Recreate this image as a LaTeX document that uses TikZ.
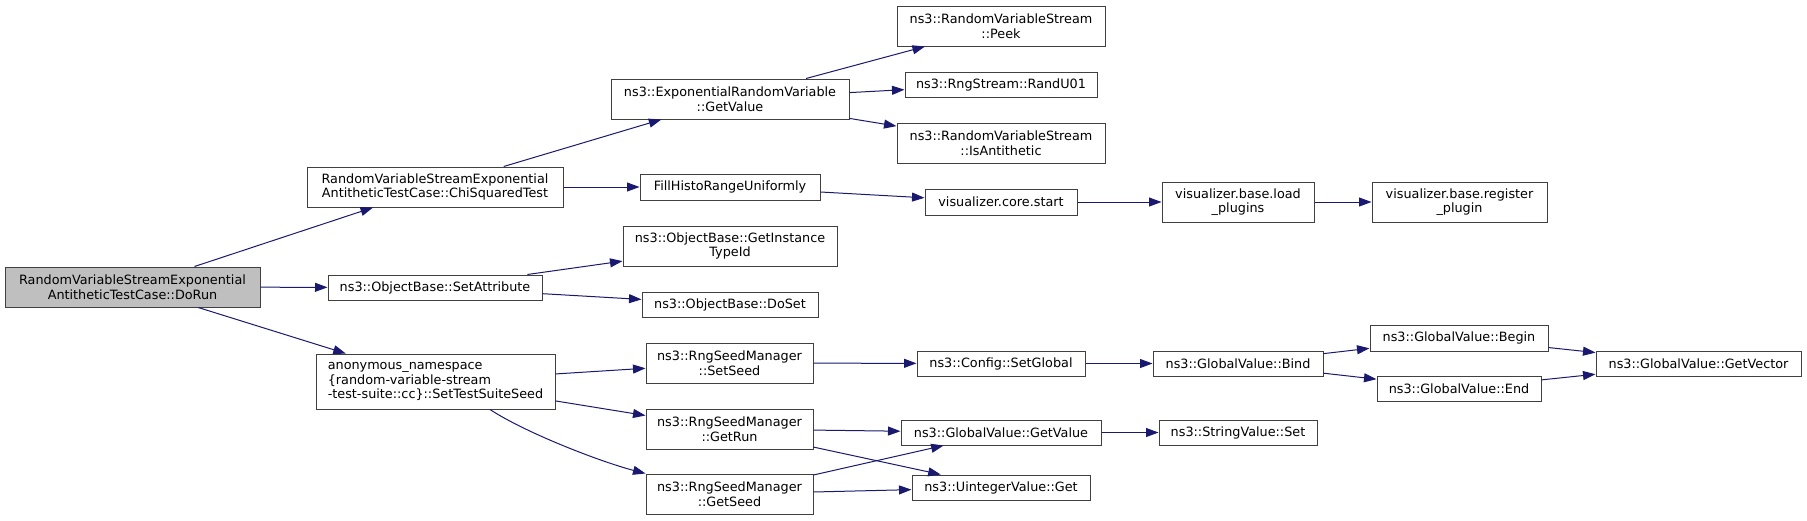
\documentclass[tikz,border=0pt]{standalone}
\usepackage{fontspec}
\setmainfont{DejaVu Sans}
\usetikzlibrary{arrows.meta,calc}
\definecolor{edgeblue}{HTML}{191970}
\definecolor{boxline}{HTML}{404040}
\definecolor{rootfill}{HTML}{BFBFBF}
\begin{document}
\begin{tikzpicture}[x=1pt,y=-1pt,
  fn/.style={draw=boxline, line width=1pt, fill=white, inner sep=0pt, align=center,
             font=\fontsize{12.8}{14.6}\selectfont},
  root/.style={fn, fill=rootfill},
  call/.style={draw=edgeblue, line width=1pt, -{Triangle[length=12.5pt,width=9pt]}}]
\useasboundingbox (0,0) rectangle (1807,520);

% column 1
\node[root, minimum width=255pt, minimum height=40pt] (dorun) at (132.5,287)
  {RandomVariableStreamExponential\\AntitheticTestCase::DoRun};
% column 2
\node[fn, minimum width=256pt, minimum height=40pt] (chisq) at (435,187)
  {RandomVariableStreamExponential\\AntitheticTestCase::ChiSquaredTest};
\node[fn, minimum width=214pt, minimum height=25pt] (setattr) at (435,287.5)
  {ns3::ObjectBase::SetAttribute};
\node[fn, align=left, minimum width=239pt, minimum height=55pt,
      font=\fontsize{12.8}{14.3}\selectfont] (seed) at (435.5,381.5)
  {anonymous\_namespace\\\{random-variable-stream\\-test-suite::cc\}::SetTestSuiteSeed};
% column 3
\node[fn, minimum width=238pt, minimum height=40pt] (expget) at (730,99)
  {ns3::ExponentialRandomVariable\\::GetValue};
\node[fn, minimum width=180pt, minimum height=26pt] (fillhisto) at (730,187)
  {FillHistoRangeUniformly};
\node[fn, minimum width=214pt, minimum height=40pt] (getinst) at (730,246)
  {ns3::ObjectBase::GetInstance\\TypeId};
\node[fn, minimum width=176pt, minimum height=25pt] (doset) at (730,304.5)
  {ns3::ObjectBase::DoSet};
\node[fn, minimum width=167pt, minimum height=40pt] (setseed) at (729.5,363)
  {ns3::RngSeedManager\\::SetSeed};
\node[fn, minimum width=167pt, minimum height=40pt] (getrun) at (729.5,429)
  {ns3::RngSeedManager\\::GetRun};
\node[fn, minimum width=167pt, minimum height=40pt] (getseed) at (729.5,494)
  {ns3::RngSeedManager\\::GetSeed};
% column 4
\node[fn, minimum width=208pt, minimum height=40pt] (peek) at (1001,26)
  {ns3::RandomVariableStream\\::Peek};
\node[fn, minimum width=192pt, minimum height=25pt] (randu) at (1001,84.5)
  {ns3::RngStream::RandU01};
\node[fn, minimum width=208pt, minimum height=40pt] (isanti) at (1001,143)
  {ns3::RandomVariableStream\\::IsAntithetic};
\node[fn, minimum width=152pt, minimum height=26pt] (corestart) at (1001,202)
  {visualizer.core.start};
\node[fn, minimum width=168pt, minimum height=25pt] (setglobal) at (1001,363.5)
  {ns3::Config::SetGlobal};
\node[fn, minimum width=200pt, minimum height=25pt] (gvget) at (1001,432.5)
  {ns3::GlobalValue::GetValue};
\node[fn, minimum width=178pt, minimum height=25pt] (uget) at (1001,487.5)
  {ns3::UintegerValue::Get};
% column 5
\node[fn, minimum width=152pt, minimum height=40pt] (loadplug) at (1238,202)
  {visualizer.base.load\\\_plugins};
\node[fn, minimum width=170pt, minimum height=25pt] (bind) at (1238,363.5)
  {ns3::GlobalValue::Bind};
\node[fn, minimum width=158pt, minimum height=25pt] (strset) at (1238,432.5)
  {ns3::StringValue::Set};
% column 6
\node[fn, minimum width=175pt, minimum height=40pt] (regplug) at (1459.5,202)
  {visualizer.base.register\\\_plugin};
\node[fn, minimum width=178pt, minimum height=26pt] (begin) at (1459,338)
  {ns3::GlobalValue::Begin};
\node[fn, minimum width=164pt, minimum height=25pt] (gvend) at (1459,388.5)
  {ns3::GlobalValue::End};
% column 7
\node[fn, minimum width=205pt, minimum height=25pt] (getvec) at (1698.5,363.5)
  {ns3::GlobalValue::GetVector};

% edges
\draw[call] (dorun) -- (chisq);
\draw[call] (dorun) -- (setattr);
\draw[call] (dorun) -- (seed);
\draw[call] (chisq) -- (expget);
\draw[call] (chisq) -- (fillhisto);
\draw[call] (expget) -- (peek);
\draw[call] (expget) -- (randu);
\draw[call] (expget) -- (isanti);
\draw[call] (fillhisto) -- (corestart);
\draw[call] (corestart) -- (loadplug);
\draw[call] (loadplug) -- (regplug);
\draw[call] (setattr) -- (getinst);
\draw[call] (setattr) -- (doset);
\draw[call] (seed) -- (setseed);
\draw[call] (seed) -- (getrun);
\draw[call] ($(seed.south)+(54.5,0)$) .. controls ($(seed.south)+(89.5,23)$)
  and ($(getseed.north west)+(-46,-12)$) .. (getseed.north west);
\draw[call] (setseed) -- (setglobal);
\draw[call] (setglobal) -- (bind);
\draw[call] (bind) -- (begin);
\draw[call] (bind) -- (gvend);
\draw[call] (begin) -- (getvec);
\draw[call] (gvend) -- (getvec);
\draw[call] (getrun) -- (gvget);
\draw[call] (getrun) -- (uget);
\draw[call] (getseed) -- (gvget);
\draw[call] (getseed) -- (uget);
\draw[call] (gvget) -- (strset);
\end{tikzpicture}
\end{document}
